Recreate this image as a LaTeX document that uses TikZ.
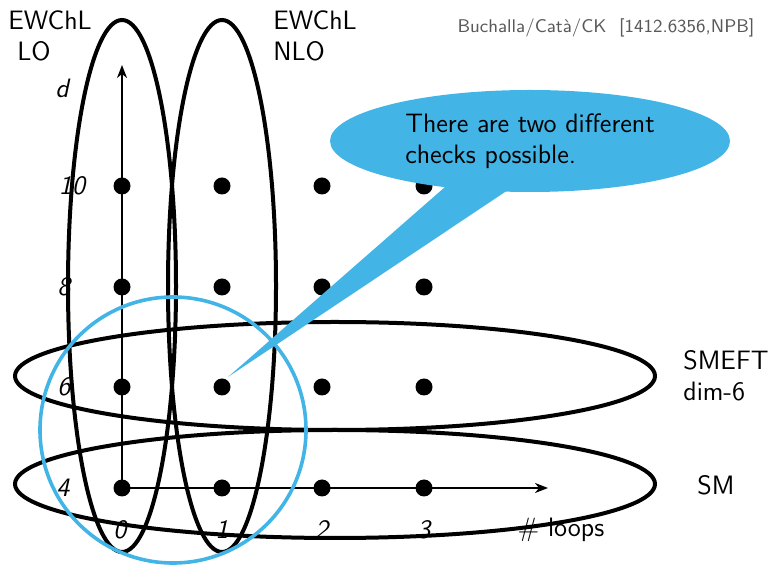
\documentclass[tikz,border=0pt]{standalone}
\usepackage{tikz}
\usetikzlibrary{arrows.meta,calc,positioning,shapes.geometric}
\definecolor{calloutblue}{RGB}{66,180,230}
\tikzset{
  dot/.style={circle,fill,inner sep=0pt,minimum size=8.5pt},
  axis/.style={-{Stealth[length=6.5pt,width=5pt,inset=2pt]},line width=0.8pt},
  ring/.style={draw,line width=2pt},
  bluering/.style={draw=calloutblue,line width=1.8pt},
  bubble/.style={ellipse,fill=calloutblue,inner sep=0pt},
  lbl/.style={font=\sffamily\fontsize{13.3}{15.5}\selectfont,inner sep=0pt},
  numlbl/.style={font=\sffamily\itshape\fontsize{13.3}{15}\selectfont,inner sep=0pt},
  cite/.style={font=\sffamily\fontsize{9.2}{11}\selectfont,text=black!65,inner sep=0pt}
}

\begin{document}
\begin{tikzpicture}[x=0.5pt,y=-0.5pt]
\useasboundingbox (0,0) rectangle (770,565);
% loops x dimension
\foreach \l/\xx in {0/122,1/222,2/322,3/424}{
  \foreach \d/\yy in {4/488,6/387,8/287,10/186}{
    \node[dot] (p-\l-\d) at (\xx,\yy) {};
  }
}
\coordinate (dtop) at (122,65);
\coordinate (ltip) at (548,488);
\draw[axis] (p-0-4.center) -- (dtop);
\draw[axis] (p-0-4.center) -- (ltip);
\node[numlbl] (dlab) at (62,88) {d};
\node[numlbl] (d10) at (72,186) {10};
\node[numlbl] (d8) at (64,287) {8};
\node[numlbl] (d6) at (64,387) {6};
\node[numlbl] (d4) at (63,488) {4};
\node[numlbl] (l0) at (120,530) {0};
\node[numlbl] (l1) at (222,530) {1};
\node[numlbl] (l2) at (322,530) {2};
\node[numlbl] (l3) at (424,530) {3};
\node[lbl] (loops) at (561,530) {\# loops};
% EFT regions
\draw[ring] (122,286) ellipse [x radius=54,y radius=266];
\draw[ring] (222,286) ellipse [x radius=54,y radius=266];
\draw[ring] (335,376) ellipse [x radius=320,y radius=54];
\draw[ring] (335,484) ellipse [x radius=320,y radius=54];
\draw[bluering] (173,430) circle [radius=133];
\node[lbl,align=left,anchor=north west] (lo) at (8,10) {EWChL\\\hspace*{4.5pt}LO};
\node[lbl,align=left,anchor=north west] (nlo) at (273,10) {EWChL\\NLO};
\node[lbl,align=left,anchor=north west] (smeft) at (683,350) {SMEFT\\dim-6};
\node[lbl] (sm) at (716,485) {SM};
\node[cite] (ref) at (606,28) {Buchalla/Catà/CK\ \ [1412.6356,NPB]};
% callout
\coordinate (tip) at (228,377);
\coordinate (bl) at (453,180);
\coordinate (br) at (523,180);
\fill[calloutblue] (tip) -- (bl) -- (br) -- cycle;
\node[bubble,lbl,align=left,minimum width=200pt,minimum height=51pt] (bubble) at (530,141)
  {There are two different\\checks possible.};
\end{tikzpicture}
\end{document}
